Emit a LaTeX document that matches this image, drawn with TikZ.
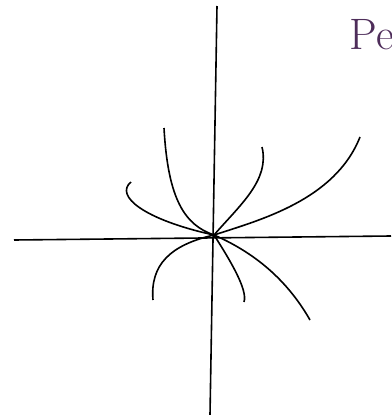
\documentclass[tikz,border=0pt]{standalone}
\begin{document}
\begin{tikzpicture}[x=1pt, y=-1pt, line width=1.6pt]

    % 1. Khung hình và các điểm chính
    \useasboundingbox (0,0) rectangle (391,415);
    \definecolor{tieude}{RGB}{78,45,90}

    \coordinate (O) at (214,235);
    \coordinate (Xl) at (14,240);
    \coordinate (Xr) at (391,236);
    \coordinate (Yt) at (217,6);
    \coordinate (Yb) at (210,415);

    % 2. Hai trục
    \draw (Xl) -- (Xr);
    \draw (Yt) -- (Yb);

    % 3. Các quỹ đạo đi qua gốc
    \draw (131,182) .. controls (114,196) and (145,220) .. (O);
    \draw (164,128) .. controls (168,200) and (185,225) .. (O);
    \draw (262,147) .. controls (270,180) and (240,205) .. (O);
    \draw (360,137) .. controls (335,200) and (260,220) .. (O);
    \draw (O) .. controls (170,245) and (150,265) .. (153,300);
    \draw (O) .. controls (230,260) and (248,290) .. (244,302);
    \draw (O) .. controls (260,255) and (290,285) .. (310,320);

    % 4. Tiêu đề (bị cắt ở mép phải)
    \node[anchor=base west, inner sep=0pt, text=tieude, font=\fontsize{44}{44}\selectfont] (tieu) at (349,49) {Pe};

\end{tikzpicture}
\end{document}
